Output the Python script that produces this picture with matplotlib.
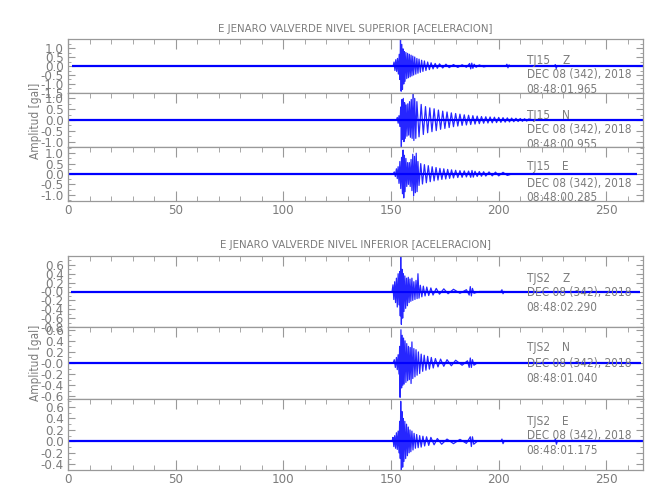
import numpy as np
import matplotlib.pyplot as plt
from matplotlib.ticker import MultipleLocator
from matplotlib.transforms import blended_transform_factory

plt.rcParams['font.family'] = ['DejaVu Sans']
plt.rcParams['font.stretch'] = 'condensed'
plt.rcParams['axes.unicode_minus'] = False

GRAY = '#999999'
TXT = '#7c7c7c'
BLUE = '#0000ff'
FS = 8.5
TFS = 9.5

# ---- traces: extremes (time [s], amplitude [gal]) ----
# upper station (TJ15)
tz_t = [151.0, 151.4, 151.8, 152.2, 152.6, 153.0, 153.4, 153.8, 154.1, 154.4, 154.7, 155.0, 155.3, 155.6,
        155.9, 156.2, 156.5, 156.9, 157.3, 157.7, 158.1, 158.5, 158.9, 159.3, 159.7, 160.1, 160.5, 161.0,
        161.5, 162.0, 162.5, 163.0, 163.6, 164.2, 164.8, 165.5, 166.2, 167.0, 167.8, 168.6, 169.5, 170.5,
        171.5, 172.5, 174.0, 175.5, 177.0, 179.0, 181.0, 183.0, 185.0, 186.5, 187.0, 187.5, 188.0, 188.6,
        189.5, 191.0, 193.0, 195.0, 203.3, 203.8, 204.3, 204.8, 205.3, 225.8, 226.3, 226.7, 227.1]
tz_a = [0.0, 0.22, -0.25, 0.35, -0.30, 0.42, -0.45, 0.65, -0.75, 1.50, -1.40, 1.20, -1.30, 0.95,
        -1.00, 0.80, -0.85, 0.75, -0.70, 0.70, -0.65, 0.65, -0.60, 0.60, -0.55, 0.55, -0.50, 0.50,
        -0.45, 0.42, -0.40, 0.38, -0.35, 0.32, -0.30, 0.28, -0.25, 0.22, -0.20, 0.18, -0.16, 0.14,
        -0.13, 0.12, -0.11, 0.10, -0.09, 0.08, -0.08, 0.07, -0.07, 0.14, -0.16, 0.16, -0.13, 0.10,
        -0.07, 0.06, -0.05, 0.0, 0.0, 0.10, -0.10, 0.06, 0.0, 0.0, 0.08, -0.14, 0.0]

tn_t = [152.5, 152.9, 153.3, 153.7, 154.1, 154.5, 154.8, 155.1, 155.4, 155.7, 156.0, 156.3, 156.6, 157.0,
        157.4, 157.8, 158.2, 158.6, 159.0, 159.4, 159.8, 160.2, 160.6, 161.0, 161.5, 162.0, 163.0, 164.0,
        165.0, 166.0, 167.0, 168.0, 169.0, 170.0, 171.0, 172.0, 173.0, 174.0, 175.0, 176.0, 177.0, 178.0,
        179.0, 180.0, 181.0, 182.0, 183.0, 184.0, 185.0, 186.0, 187.0, 188.0, 189.0, 190.0, 191.0, 192.0,
        193.0, 194.0, 195.0, 196.0, 197.0, 198.0, 199.0, 200.0, 201.0, 202.0, 203.0, 204.0, 205.0, 206.0,
        207.0, 208.0, 209.0, 210.0, 211.0, 212.0, 213.0, 214.0, 216.0]
tn_a = [0.0, 0.12, -0.15, 0.20, -0.30, 0.60, -1.25, 0.95, -0.90, 1.00, -1.00, 0.80, -0.85, 0.70,
        -0.75, 0.75, -0.70, 0.85, -0.80, 0.95, -0.85, 1.20, -0.95, 1.00, -0.85, 0.85, -0.78, 0.72,
        -0.67, 0.62, -0.59, 0.56, -0.54, 0.52, -0.49, 0.46, -0.43, 0.41, -0.39, 0.37, -0.35, 0.33,
        -0.31, 0.30, -0.28, 0.27, -0.25, 0.24, -0.23, 0.22, -0.21, 0.20, -0.19, 0.18, -0.17, 0.16,
        -0.15, 0.15, -0.14, 0.14, -0.13, 0.13, -0.12, 0.12, -0.11, 0.11, -0.10, 0.10, -0.09, 0.09,
        -0.08, 0.08, -0.07, 0.07, -0.06, 0.06, -0.05, 0.05, 0.0]

te_t = [151.0, 151.5, 152.0, 152.5, 152.9, 153.3, 153.7, 154.1, 154.5, 154.9, 155.3, 155.6, 155.9, 156.2,
        156.5, 156.9, 157.3, 157.7, 158.1, 158.5, 158.9, 159.3, 159.7, 160.1, 160.5, 160.9, 161.3, 161.7,
        162.1, 162.5, 163.0, 163.8, 164.6, 165.5, 166.4, 167.3, 168.2, 169.1, 170.0, 170.9, 171.8, 172.7,
        173.6, 174.5, 175.4, 176.3, 177.2, 178.1, 179.0, 180.0, 181.0, 182.0, 183.0, 184.0, 185.0, 186.0,
        187.0, 187.6, 188.2, 189.0, 190.0, 191.0, 192.0, 193.0, 194.0, 195.5, 197.0, 198.5, 200.0, 202.0,
        204.0, 206.0]
te_a = [0.0, 0.10, -0.12, 0.25, -0.22, 0.35, -0.45, 0.60, -0.70, 0.80, -0.95, 1.15, -1.15, 0.90,
        -0.85, 0.75, -0.60, 0.55, -0.50, 0.55, -0.60, 0.70, -0.80, 0.95, -1.05, 0.85, -0.90, 1.00,
        -0.85, 0.60, -0.55, 0.50, -0.48, 0.45, -0.42, 0.40, -0.37, 0.35, -0.33, 0.31, -0.29, 0.27,
        -0.26, 0.25, -0.24, 0.22, -0.21, 0.20, -0.19, 0.18, -0.17, 0.16, -0.16, 0.15, -0.14, 0.14,
        -0.16, 0.17, -0.15, 0.13, -0.12, 0.12, -0.11, 0.11, -0.10, 0.10, -0.09, 0.09, -0.09, 0.08,
        -0.07, 0.0]

# lower station (TJS2)
bz_t = [150.5, 150.9, 151.3, 151.7, 152.1, 152.5, 152.9, 153.3, 153.7, 154.0, 154.3, 154.5, 154.8, 155.1,
        155.4, 155.7, 156.0, 156.4, 156.8, 157.2, 157.6, 158.0, 158.4, 158.8, 159.2, 159.7, 160.1, 160.6,
        161.1, 161.6, 162.1, 162.5, 163.0, 163.6, 164.3, 165.0, 165.8, 166.6, 167.5, 168.5, 169.5, 171.0,
        172.5, 174.5, 176.5, 179.0, 182.0, 185.0, 186.3, 186.8, 187.3, 187.8, 188.5, 191.0, 201.0, 201.5,
        202.0, 202.5]
bz_a = [0.0, 0.15, -0.18, 0.22, -0.25, 0.30, -0.35, 0.40, -0.30, 0.45, -0.55, 0.78, -0.74, 0.50,
        -0.60, 0.40, -0.45, 0.35, -0.38, 0.30, -0.32, 0.32, -0.25, 0.28, -0.22, 0.30, -0.20, 0.22,
        -0.18, 0.25, -0.16, 0.40, -0.15, 0.14, -0.12, 0.12, -0.10, 0.10, -0.09, 0.08, -0.08, 0.07,
        -0.06, 0.06, -0.05, 0.05, -0.04, 0.04, -0.08, 0.11, -0.10, 0.07, -0.04, 0.0, 0.0, 0.04,
        -0.05, 0.0]

bn_t = [151.0, 151.5, 152.0, 152.5, 152.9, 153.3, 153.7, 154.0, 154.2, 154.6, 154.9, 155.2, 155.5, 155.8,
        156.1, 156.5, 156.9, 157.3, 157.7, 158.1, 158.5, 158.9, 159.3, 159.7, 160.1, 160.6, 161.1, 161.6,
        162.1, 162.7, 163.3, 164.0, 164.7, 165.4, 166.2, 167.0, 167.8, 168.7, 169.6, 170.6, 171.8, 173.0,
        174.5, 176.0, 178.0, 180.0, 183.0, 185.5, 186.3, 186.8, 187.3, 187.8, 188.5, 190.0]
bn_a = [0.0, 0.06, -0.08, 0.10, -0.12, 0.15, -0.20, 0.30, -0.62, 0.60, -0.45, 0.50, -0.40, 0.45,
        -0.38, 0.40, -0.35, 0.35, -0.32, 0.30, -0.30, 0.28, -0.37, 0.38, -0.28, 0.26, -0.25, 0.24,
        -0.22, 0.20, -0.19, 0.16, -0.15, 0.14, -0.13, 0.12, -0.11, 0.10, -0.09, 0.08, -0.07, 0.07,
        -0.06, 0.06, -0.05, 0.05, -0.04, 0.04, -0.08, 0.09, -0.08, 0.06, -0.04, 0.0]

be_t = [150.5, 150.9, 151.3, 151.7, 152.1, 152.5, 152.9, 153.3, 153.7, 154.0, 154.3, 154.5, 154.8, 155.1,
        155.4, 155.7, 156.0, 156.4, 156.8, 157.2, 157.6, 158.0, 158.4, 158.8, 159.2, 159.7, 160.2, 160.7,
        161.3, 161.9, 162.6, 163.3, 164.0, 164.8, 165.6, 166.5, 167.5, 168.5, 170.0, 171.5, 173.5, 176.0,
        179.0, 182.0, 185.0, 186.8, 187.3, 187.8, 188.4, 190.0, 201.0, 201.5, 202.0, 202.5, 225.8, 226.3,
        226.8, 227.2]
be_a = [0.0, 0.07, -0.09, 0.10, -0.12, 0.15, -0.14, 0.18, -0.20, 0.35, -0.30, 0.70, -0.52, 0.52,
        -0.45, 0.40, -0.35, 0.35, -0.30, 0.30, -0.25, 0.25, -0.20, 0.20, -0.18, 0.18, -0.15, 0.14,
        -0.12, 0.12, -0.11, 0.10, -0.10, 0.09, -0.08, 0.08, -0.07, 0.07, -0.06, 0.05, -0.05, 0.04,
        -0.04, 0.035, -0.035, 0.08, -0.09, 0.08, -0.05, 0.0, 0.0, 0.04, -0.04, 0.0, 0.0, 0.04,
        -0.05, 0.0]

# record start / end times of each trace
starts = [1.7, 0.0, 0.0, 1.5, 0.0, 0.0]
ends = [267.0, 267.0, 264.0, 265.5, 266.0, 267.0]

stations = ['TJ15', 'TJ15', 'TJ15', 'TJS2', 'TJS2', 'TJS2']
comps = ['Z', 'N', 'E', 'Z', 'N', 'E']
date = 'DEC 08 (342), 2018'
times = ['08:48:01.965', '08:48:00.955', '08:48:00.285', '08:48:02.290', '08:48:01.040', '08:48:01.175']

ylims = [(-1.5, 1.5), (-1.25, 1.25), (-1.3, 1.3), (-0.8, 0.8), (-0.65, 0.65), (-0.5, 0.74)]
yticks = [[-1.5, -1.0, -0.5, 0.0, 0.5, 1.0],
          [-1.0, -0.5, 0.0, 0.5, 1.0],
          [-1.0, -0.5, 0.0, 0.5, 1.0],
          [-0.8, -0.6, -0.4, -0.2, 0.0, 0.2, 0.4, 0.6],
          [-0.6, -0.4, -0.2, 0.0, 0.2, 0.4, 0.6],
          [-0.4, -0.2, 0.0, 0.2, 0.4, 0.6]]
ylabels = [['-1.5', '-1.0', '-0.5', '0.0', '0.5', '1.0'],
           ['-1.0', '-0.5', '0.0', '0.5', '1.0'],
           ['-1.0', '-0.5', '0.0', '0.5', '1.0'],
           ['-0.8', '-0.6', '-0.4', '-0.2', '-0.0', '0.2', '0.4', '0.6'],
           ['-0.6', '-0.4', '-0.2', '-0.0', '0.2', '0.4', '0.6'],
           ['-0.4', '-0.2', '0.0', '0.2', '0.4', '0.6']]
xticks = [0, 50, 100, 150, 200, 250]

traces = [(tz_t, tz_a), (tn_t, tn_a), (te_t, te_a), (bz_t, bz_a), (bn_t, bn_a), (be_t, be_a)]

# ---- layout ----
fig = plt.figure(figsize=(6.5, 5), dpi=100)
L, W = 68 / 650, 575 / 650
rects = [(L, 0.814, W, 0.108), (L, 0.706, W, 0.108), (L, 0.598, W, 0.108),
         (L, 0.346, W, 0.142), (L, 0.202, W, 0.144), (L, 0.060, W, 0.142)]
# text rows (axes fraction) for station, date, time
rows = [(0.60, 0.34, 0.06), (0.58, 0.32, 0.04), (0.63, 0.33, 0.06),
        (0.69, 0.49, 0.28), (0.71, 0.50, 0.29), (0.68, 0.48, 0.27)]

for i in range(6):
    ax = fig.add_axes(rects[i])
    t, a = traces[i]
    ax.plot([starts[i], ends[i]], [0, 0], color=BLUE, lw=1.6, solid_capstyle='butt')
    ax.plot(t, a, color=BLUE, lw=0.9, alpha=0.85)
    ax.set_xlim(0, 267)
    ax.set_ylim(*ylims[i])
    ax.set_yticks(yticks[i])
    ax.set_yticklabels(ylabels[i])
    step = yticks[i][1] - yticks[i][0]
    ax.yaxis.set_minor_locator(MultipleLocator(step / 2))
    ax.set_xticks(xticks)
    ax.xaxis.set_minor_locator(MultipleLocator(10))
    last = i in (2, 5)
    ax.tick_params(axis='x', which='both', direction='in', top=True, bottom=last,
                   labelbottom=last, colors=GRAY, labelcolor=TXT, labelsize=TFS, pad=2)
    ax.tick_params(axis='x', which='major', length=7)
    ax.tick_params(axis='x', which='minor', length=3.5)
    ax.tick_params(axis='y', which='both', direction='in', left=True, right=True,
                   colors=GRAY, labelcolor=TXT, labelsize=TFS, pad=3)
    ax.tick_params(axis='y', which='major', length=5)
    ax.tick_params(axis='y', which='minor', length=2.5)
    for s in ax.spines.values():
        s.set_color(GRAY)
        s.set_linewidth(0.9)
    tr = blended_transform_factory(ax.transData, ax.transAxes)
    r = rows[i]
    ax.text(213, r[0], stations[i], transform=tr, color=TXT, fontsize=FS, va='center')
    ax.text(229.5, r[0], comps[i], transform=tr, color=TXT, fontsize=FS, va='center')
    ax.text(213, r[1], date, transform=tr, color=TXT, fontsize=FS, va='center')
    ax.text(213, r[2], times[i], transform=tr, color=TXT, fontsize=FS, va='center')

cx = (68 + 643) / 2 / 650
fig.text(cx, 1 - 29 / 500, 'E JENARO VALVERDE NIVEL SUPERIOR [ACELERACION]',
         ha='center', va='center', color=TXT, fontsize=8.2)
fig.text(cx, 1 - 245 / 500, 'E JENARO VALVERDE NIVEL INFERIOR [ACELERACION]',
         ha='center', va='center', color=TXT, fontsize=8.2)
fig.text(35 / 650, 1 - 121 / 500, 'Amplitud [gal]', rotation=90,
         ha='center', va='center', color=TXT, fontsize=FS)
fig.text(35 / 650, 1 - 363 / 500, 'Amplitud [gal]', rotation=90,
         ha='center', va='center', color=TXT, fontsize=FS)

fig.savefig('out.png', dpi=100)
